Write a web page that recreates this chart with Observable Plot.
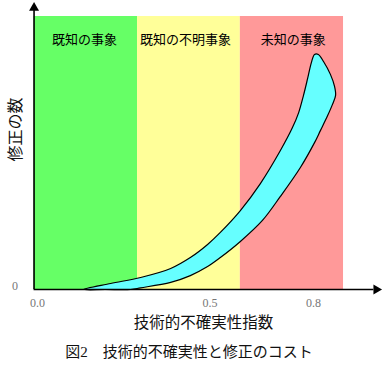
<!DOCTYPE html>
<html>
<head>
<meta charset="utf-8">
<script src="https://cdn.jsdelivr.net/npm/d3@7"></script>
<script src="https://cdn.jsdelivr.net/npm/@observablehq/plot@0.6"></script>
<style>
  html, body { margin: 0; padding: 0; background: #fff; }
  #wrap { position: relative; width: 386px; height: 368px; }
  #caption { position: absolute; left: 0; top: 341px; width: 378px; text-align: center;
    font-family: "Liberation Serif", "Noto Sans CJK JP", serif; font-size: 15px; line-height: 22px; color: #111; }
</style>
</head>
<body>
<div id="wrap"><div id="chart"></div><div id="caption"></div></div>
<script>
// Bands (technical uncertainty index ranges)
const bandNames = ["既知の事象", "既知の不明事象", "未知の事象"];
const bandStart = [-0.01, 0.29, 0.588];
const bandEnd = [0.29, 0.588, 0.887];
const bandColors = ["#66ff66", "#ffff99", "#ff9999"];
const bandLabelX = [0.136, 0.429, 0.741];
const bandLabelY = 91.3;

// Cost-of-fixes blob outline (x: uncertainty index, y: number of fixes, 0..100 scale)
const blobX = [0.133, 0.212, 0.299, 0.386, 0.443, 0.493, 0.530, 0.588, 0.646, 0.704, 0.739, 0.757, 0.771, 0.783, 0.794, 0.803,
  0.814, 0.829, 0.849, 0.861, 0.864, 0.855, 0.841, 0.820, 0.803,
  0.762, 0.704, 0.652, 0.588, 0.530, 0.493, 0.443, 0.386, 0.299, 0.270, 0.197];
const blobY = [0, 2.2, 4.4, 7.7, 11.7, 16.5, 20.9, 28.9, 38.8, 50.9, 59.3, 64.8, 71.1, 77.3, 83.2, 86.1,
  86.1, 83.5, 78.8, 74.4, 71.1, 67.8, 63.7, 58.2, 53.8,
  44.7, 34.1, 25.3, 17.6, 11.7, 8.4, 5.1, 2.6, 0.6, 0, 0];

// Axis ticks & labels
const xTicks = [0, 0.5, 0.8];
const xTickLabels = ["0.0", "0.5", "0.8"];
const yTicks = [0];
const yTickLabels = ["0"];
const xAxisEnd = 0.975;
const yAxisEnd = 102.5;
const axisOrigin = -0.01;
const xLabel = "技術的不確実性指数";
const yLabel = "修正の数";
const caption = "図2　技術的不確実性と修正のコスト";

const bands = bandNames.map((name, i) => ({name, x1: bandStart[i], x2: bandEnd[i], color: bandColors[i], lx: bandLabelX[i]}));
const blob = blobX.map((x, i) => ({x, y: blobY[i]}));

const chart = Plot.plot({
  width: 386,
  height: 340,
  marginLeft: 37,
  marginRight: 4,
  marginTop: 16,
  marginBottom: 51,
  x: {domain: [0, 1], axis: null},
  y: {domain: [0, 100], axis: null},
  style: {fontFamily: "'Noto Sans CJK JP', sans-serif", background: "#fff", overflow: "visible"},
  marks: [
    Plot.rect(bands, {x1: "x1", x2: "x2", y1: 0, y2: 100, fill: "color"}),
    Plot.line(blob, {x: "x", y: "y", curve: "catmull-rom-closed", fill: "#66ffff", stroke: "#000", strokeWidth: 1.2}),
    Plot.ruleX([axisOrigin], {y1: 0, y2: yAxisEnd, stroke: "#000", strokeWidth: 1.6}),
    Plot.ruleY([0], {x1: axisOrigin, x2: xAxisEnd, stroke: "#000", strokeWidth: 1.6}),
    Plot.dot([{x: axisOrigin, y: 103.2}], {x: "x", y: "y", symbol: "triangle", r: 3.7, fill: "#000", stroke: "none"}),
    Plot.dot([{x: 0.982, y: 0}], {x: "x", y: "y", symbol: "triangle", r: 3.7, rotate: 90, fill: "#000", stroke: "none"}),
    Plot.text(bands, {x: "lx", y: bandLabelY, text: "name", fontSize: 13, fill: "#000"}),
    Plot.text(xTicks, {x: d => d, y: 0, dy: 13.5, text: (d, i) => xTickLabels[i], fontFamily: "'Liberation Serif', serif", fontSize: 12, fill: "#777"}),
    Plot.text(yTicks, {x: -0.065, y: d => d, dy: -3, text: (d, i) => yTickLabels[i], fontFamily: "'Liberation Serif', serif", fontSize: 12, fill: "#777"}),
    Plot.text([xLabel], {x: 0.481, y: -12.1, text: d => d, fontSize: 15.5, fill: "#111"}),
    Plot.text([yLabel], {x: -0.064, y: 58.6, text: d => d, rotate: -90, fontSize: 16, fill: "#111"})
  ]
});
document.getElementById("chart").appendChild(chart);
document.getElementById("caption").textContent = caption;
</script>
</body>
</html>
